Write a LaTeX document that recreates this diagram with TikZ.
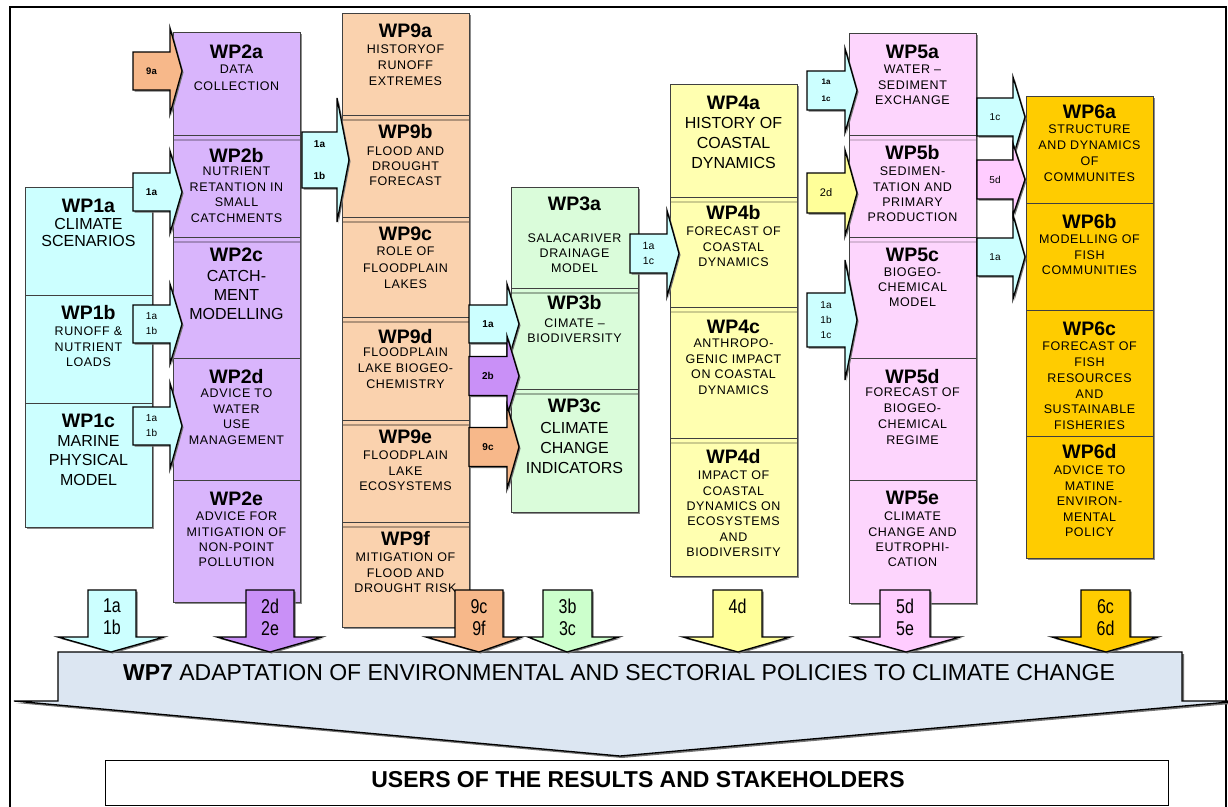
\documentclass[tikz,border=0pt]{standalone}
\usepackage{fontspec}
\setmainfont{Liberation Sans}
\newfontfamily\dscfont[LetterSpace=5]{Liberation Sans}
\newfontfamily\narrowfont[FakeStretch=0.8]{Liberation Sans}
\usetikzlibrary{calc}

\definecolor{cyanA}{HTML}{CCFFFF}
\definecolor{wpii}{HTML}{D9B5FC}
\definecolor{wpix}{HTML}{FAD2AE}
\definecolor{wpiii}{HTML}{DAFCDA}
\definecolor{wpiv}{HTML}{FFFFB0}
\definecolor{wpv}{HTML}{FDD5FD}
\definecolor{wpvi}{HTML}{FFCC00}
\definecolor{wpvii}{HTML}{DCE6F2}
\definecolor{orangeA}{HTML}{F7B88A}
\definecolor{purpA}{HTML}{C990F7}
\definecolor{greenA}{HTML}{CCFFCC}
\definecolor{yellowA}{HTML}{FFFF99}
\definecolor{pinkA}{HTML}{FFCCFF}

\newcommand\DSs[1]{\dscfont\fontsize{12.5}{#1}\selectfont}
\newcommand\DSb[1]{\fontsize{16}{#1}\selectfont}

\tikzset{
  wpbox/.style={draw=black!75, line width=1pt, minimum width=127pt, inner sep=0pt, outer sep=0pt},
  ttl/.style={inner sep=0pt, font=\fontsize{19.5}{20}\selectfont\bfseries},
  dsc/.style={inner sep=0pt, align=center},
  arrbody/.style={draw=black, line width=1.3pt, line join=miter},
  arrshadow/.style={fill=black!55},
  colshadow/.style={fill=black!45},
  albl/.style={inner sep=0pt, align=center, font=\fontsize{10}{15}\selectfont},
  dlbl/.style={inner sep=0pt, align=center, font=\narrowfont\fontsize{20}{22}\selectfont},
}

\newcommand\WPBox[5]{%
  \pgfmathsetlengthmacro\wpboxh{#5-#4}%
  \node[wpbox,fill=#2,minimum height=\wpboxh,anchor=north west] (#1) at (#3,#4) {};}
\newcommand\WPText[7]{%
  \node[ttl,anchor=base] (#1t) at (#2,#3) {#4};
  \node[dsc,anchor=north,font={#6}] (#1d) at (#2,#5) {#7};}
\newcommand\Sep[2]{\draw[#2,line width=1.2pt] ([yshift=-5pt,xshift=0.5pt]#1.north west) -- ([yshift=-5pt,xshift=-0.5pt]#1.north east);}
\newcommand\RArr[9][]{%
  \pgfmathsetmacro\rarYa{#6-#7}\pgfmathsetmacro\rarYb{#6+#7}%
  \pgfmathsetmacro\rarHa{#6-#8}\pgfmathsetmacro\rarHb{#6+#8}%
  \pgfmathsetmacro\rarTip{#5+12}%
  \pgfmathsetmacro\rarMid{(#4+#5)/2}%
  \fill[arrshadow,shift={(1.5,1.5)}] (#4,\rarYa) -- (#5,\rarYa) -- (#5,\rarHa) -- (\rarTip,#6) -- (#5,\rarHb) -- (#5,\rarYb) -- (#4,\rarYb) -- cycle;
  \draw[arrbody,fill=#3] (#4,\rarYa) -- (#5,\rarYa) -- (#5,\rarHa) -- (\rarTip,#6) -- (#5,\rarHb) -- (#5,\rarYb) -- (#4,\rarYb) -- cycle;
  \node[albl,#1] (#2) at (\rarMid,#6) {#9};}
\newcommand\DArr[8]{%
  \pgfmathsetmacro\darMid{(#3+#4)/2}%
  \fill[arrshadow,shift={(1.5,1.5)}] (#3,590) -- (#4,590) -- (#4,637) -- (#6,637) -- (#7,652) -- (#5,637) -- (#3,637) -- cycle;
  \draw[arrbody,fill=#2] (#3,590) -- (#4,590) -- (#4,637) -- (#6,637) -- (#7,652) -- (#5,637) -- (#3,637) -- cycle;
  \node[dlbl,anchor=north] (#1) at (\darMid,599) {#8};}

\begin{document}
\begin{tikzpicture}[x=1pt,y=-1pt]
\useasboundingbox (0,0) rectangle (1228,806);
\fill[white] (0,0) rectangle (1228,806);
% frame
\draw[line width=2pt] (10,812) -- (10,7) -- (1226,7) -- (1226,812);

% column shadows
\fill[colshadow] (27,189) rectangle (154,529);
\fill[colshadow] (175,34) rectangle (302,604);
\fill[colshadow] (344,15) rectangle (471,629);
\fill[colshadow] (513,189) rectangle (640,514);
\fill[colshadow] (672,86) rectangle (799,578);
\fill[colshadow] (851,35) rectangle (978,605);
\fill[colshadow] (1028,98) rectangle (1155,560);

% WP1
\WPBox{wp1a}{cyanA}{25}{187}{295}
\WPBox{wp1b}{cyanA}{25}{295}{403}
\WPBox{wp1c}{cyanA}{25}{403}{527}
% WP2
\WPBox{wp2a}{wpii}{173}{32}{135}
\WPBox{wp2b}{wpii}{173}{135}{237}
\WPBox{wp2c}{wpii}{173}{237}{358}
\WPBox{wp2d}{wpii}{173}{358}{480}
\WPBox{wp2e}{wpii}{173}{480}{602}
\Sep{wp2b}{wpii!75!black}\Sep{wp2c}{wpii!75!black}
% WP9
\WPBox{wp9a}{wpix}{342}{13}{115}
\WPBox{wp9b}{wpix}{342}{115}{217}
\WPBox{wp9c}{wpix}{342}{217}{317}
\WPBox{wp9d}{wpix}{342}{317}{420}
\WPBox{wp9e}{wpix}{342}{420}{522}
\WPBox{wp9f}{wpix}{342}{522}{627}
\Sep{wp9b}{wpix!70!black}\Sep{wp9c}{wpix!70!black}\Sep{wp9d}{wpix!70!black}\Sep{wp9e}{wpix!70!black}\Sep{wp9f}{wpix!70!black}
% WP3
\WPBox{wp3a}{wpiii}{511}{187}{288}
\WPBox{wp3b}{wpiii}{511}{288}{389}
\WPBox{wp3c}{wpiii}{511}{389}{512}
\Sep{wp3b}{wpiii!70!black}\Sep{wp3c}{wpiii!70!black}
% WP4
\WPBox{wp4a}{wpiv}{670}{84}{197}
\WPBox{wp4b}{wpiv}{670}{197}{307}
\WPBox{wp4c}{wpiv}{670}{307}{438}
\WPBox{wp4d}{wpiv}{670}{438}{576}
\Sep{wp4b}{wpiv!80!black}\Sep{wp4c}{wpiv!80!black}\Sep{wp4d}{wpiv!80!black}
% WP5
\WPBox{wp5a}{wpv}{849}{33}{135}
\WPBox{wp5b}{wpv}{849}{135}{237}
\WPBox{wp5c}{wpv}{849}{237}{358}
\WPBox{wp5d}{wpv}{849}{358}{480}
\WPBox{wp5e}{wpv}{849}{480}{603}
\Sep{wp5b}{wpv!85!black}\Sep{wp5c}{wpv!85!black}
% WP6
\WPBox{wp6a}{wpvi}{1026}{96}{203}
\WPBox{wp6b}{wpvi}{1026}{203}{310}
\WPBox{wp6c}{wpvi}{1026}{310}{436}
\WPBox{wp6d}{wpvi}{1026}{436}{558}

% texts
\WPText{wp1a}{88.5}{212}{WP1a}{218}{\DSb{17}}{CLIMATE\\SCENARIOS}
\WPText{wp1b}{88.5}{319}{WP1b}{327}{\DSs{15.5}}{RUNOFF \&\\NUTRIENT\\LOADS}
\WPText{wp1c}{88.5}{427}{WP1c}{435}{\DSb{19.5}}{MARINE\\PHYSICAL\\MODEL}

\WPText{wp2a}{236.5}{58}{WP2a}{65}{\DSs{17}}{DATA\\COLLECTION}
\WPText{wp2b}{236.5}{162}{WP2b}{167}{\DSs{15.5}}{NUTRIENT\\RETANTION IN\\SMALL\\CATCHMENTS}
\WPText{wp2c}{236.5}{261}{WP2c}{270}{\DSb{19}}{CATCH-\\MENT\\MODELLING}
\WPText{wp2d}{236.5}{383}{WP2d}{389}{\DSs{15.5}}{ADVICE TO\\WATER\\USE\\MANAGEMENT}
\WPText{wp2e}{236.5}{505}{WP2e}{512}{\DSs{15.3}}{ADVICE FOR\\MITIGATION OF\\NON-POINT\\POLLUTION}

\WPText{wp9a}{405.5}{37}{WP9a}{45}{\DSs{16}}{HISTORYOF\\RUNOFF\\EXTREMES}
\WPText{wp9b}{405.5}{138}{WP9b}{147}{\DSs{15}}{FLOOD AND\\DROUGHT\\FORECAST}
\WPText{wp9c}{405.5}{240}{WP9c}{247}{\DSs{16.5}}{ROLE OF\\FLOODPLAIN\\LAKES}
\WPText{wp9d}{405.5}{343}{WP9d}{348}{\DSs{16}}{FLOODPLAIN\\LAKE BIOGEO-\\CHEMISTRY}
\WPText{wp9e}{405.5}{443}{WP9e}{451}{\DSs{15.5}}{FLOODPLAIN\\LAKE\\ECOSYSTEMS}
\WPText{wp9f}{405.5}{545}{WP9f}{553}{\DSs{15.5}}{MITIGATION OF\\FLOOD AND\\DROUGHT RISK}

\WPText{wp3a}{574.5}{210}{WP3a}{234}{\DSs{15}}{SALACARIVER\\DRAINAGE\\MODEL}
\WPText{wp3b}{574.5}{309}{WP3b}{319}{\DSs{15}}{CIMATE –\\BIODIVERSITY}
\WPText{wp3c}{574.5}{412}{WP3c}{422}{\DSb{20}}{CLIMATE\\CHANGE\\INDICATORS}

\WPText{wp4a}{733.5}{109}{WP4a}{117}{\DSb{20}}{HISTORY OF\\COASTAL\\DYNAMICS}
\WPText{wp4b}{733.5}{219}{WP4b}{227}{\DSs{15.5}}{FORECAST OF\\COASTAL\\DYNAMICS}
\WPText{wp4c}{733.5}{333}{WP4c}{339}{\DSs{15.5}}{ANTHROPO-\\GENIC IMPACT\\ON COASTAL\\DYNAMICS}
\WPText{wp4d}{733.5}{463}{WP4d}{471}{\DSs{15.3}}{IMPACT OF\\COASTAL\\DYNAMICS ON\\ECOSYSTEMS\\AND\\BIODIVERSITY}

\WPText{wp5a}{912.5}{58}{WP5a}{65}{\DSs{15.5}}{WATER –\\SEDIMENT\\EXCHANGE}
\WPText{wp5b}{912.5}{159}{WP5b}{167}{\DSs{15.3}}{SEDIMEN-\\TATION AND\\PRIMARY\\PRODUCTION}
\WPText{wp5c}{912.5}{261}{WP5c}{268}{\DSs{15}}{BIOGEO-\\CHEMICAL\\MODEL}
\WPText{wp5d}{912.5}{383}{WP5d}{388}{\DSs{16}}{FORECAST OF\\BIOGEO-\\CHEMICAL\\REGIME}
\WPText{wp5e}{912.5}{504}{WP5e}{512}{\DSs{15.3}}{CLIMATE\\CHANGE AND\\EUTROPHI-\\CATION}

\WPText{wp6a}{1089.5}{118}{WP6a}{125}{\DSs{15.7}}{STRUCTURE\\AND DYNAMICS\\OF\\COMMUNITES}
\WPText{wp6b}{1089.5}{228}{WP6b}{235}{\DSs{15.5}}{MODELLING OF\\FISH\\COMMUNITIES}
\WPText{wp6c}{1089.5}{335}{WP6c}{342}{\DSs{15.7}}{FORECAST OF\\FISH\\RESOURCES\\AND\\SUSTAINABLE\\FISHERIES}
\WPText{wp6d}{1089.5}{458}{WP6d}{466}{\DSs{15.5}}{ADVICE TO\\MATINE\\ENVIRON-\\MENTAL\\POLICY}

% right block arrows
\RArr[font=\fontsize{9.5}{12}\selectfont\bfseries]{a9a}{orangeA}{133}{170}{71}{19}{43}{9a}
\RArr[font=\fontsize{10}{12}\selectfont\bfseries]{a1to2b}{cyanA}{133}{170}{192}{19}{41}{1a}
\RArr{a1to2c}{cyanA}{133}{170}{324}{19}{40}{1a\\1b}
\RArr{a1to2d}{cyanA}{133}{170}{426}{19}{43}{1a\\1b}
\RArr[font=\fontsize{10}{32}\selectfont\bfseries]{a1to9b}{cyanA}{302}{337}{160}{28}{62}{1a\\1b}
\RArr[font=\fontsize{10}{12}\selectfont\bfseries]{a1to3b}{cyanA}{469}{507}{324}{19}{40}{1a}
\RArr[font=\fontsize{10}{12}\selectfont\bfseries]{a2bto3b}{purpA}{469}{507}{376}{19.5}{40}{2b}
\RArr[font=\fontsize{10}{12}\selectfont\bfseries]{a9cto3c}{orangeA}{469}{507}{447}{19.5}{42}{9c}
\RArr[font=\fontsize{10.5}{15}\selectfont]{a1to4b}{cyanA}{630}{667}{253.5}{19.5}{43}{1a\\1c}
\RArr[font=\fontsize{8}{17}\selectfont\bfseries]{a1to5a}{cyanA}{807}{845}{90.5}{19.5}{42}{1a\\1c}
\RArr[font=\fontsize{11}{13}\selectfont]{a2dto5b}{yellowA}{807}{845}{193}{20}{43}{2d}
\RArr{a1to5c}{cyanA}{807}{845}{320}{27}{60}{1a\\1b\\1c}
\RArr{a1cto6a}{cyanA}{977}{1013}{117}{19}{40}{1c}
\RArr{a5dto6a}{pinkA}{977}{1013}{179.5}{19.5}{36}{5d}
\RArr{a1to6b}{cyanA}{977}{1013}{257}{19}{42}{1a}

% WP7 big arrow
\fill[arrshadow,shift={(2,2)}] (58,652) -- (1182,652) -- (1182,701) -- (1240,701) -- (620,756) -- (14,701) -- (58,701) -- cycle;
\draw[arrbody,fill=wpvii] (58,652) -- (1182,652) -- (1182,701) -- (1240,701) -- (620,756) -- (14,701) -- (58,701) -- cycle;
\node[font=\fontsize{23}{26}\selectfont, inner sep=0pt, anchor=base] (wp7) at (619,680) {\textbf{WP7} ADAPTATION OF ENVIRONMENTAL AND SECTORIAL POLICIES TO CLIMATE CHANGE};

% down arrows
\DArr{d1}{cyanA}{88}{136}{58}{164}{111}{1a\\1b}
\DArr{d2}{purpA}{246}{294}{217}{322}{270}{2d\\2e}
\DArr{d9}{orangeA}{455}{503}{426}{522}{479}{9c\\9f}
\DArr{d3}{greenA}{543}{592}{528}{619}{567}{3b\\3c}
\DArr{d4}{yellowA}{713}{762}{683}{790}{738}{4d}
\DArr{d5}{pinkA}{880}{930}{853}{960}{906}{5d\\5e}
\DArr{d6}{wpvi}{1081}{1130}{1052}{1158}{1106}{6c\\6d}

% users
\node[draw=black, line width=1.2pt, fill=white, minimum width=1063pt, minimum height=45pt, inner sep=0pt, anchor=north west] (users) at (105,760) {};
\node[font=\fontsize{23}{26}\selectfont\bfseries, inner sep=0pt, anchor=base] (userst) at (638,787) {USERS OF THE RESULTS AND STAKEHOLDERS};
\end{tikzpicture}
\end{document}
